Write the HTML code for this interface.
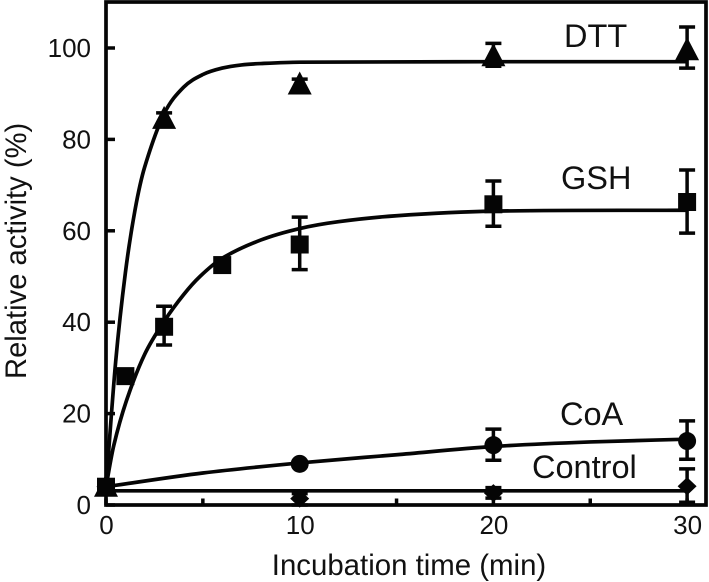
<!DOCTYPE html>
<html>
<head>
<meta charset="utf-8">
<title>Relative activity chart</title>
<style>
html,body{margin:0;padding:0;background:#fff;}
svg{display:block;}
text{font-family:"Liberation Sans",Arial,sans-serif;fill:#111;}
</style>
</head>
<body>
<svg id="chart" xmlns="http://www.w3.org/2000/svg" width="709" height="582" viewBox="0 0 709 582"></svg>
<script>
const xTicks = [0, 10, 20, 30];
const xMinorTicks = [5, 15, 25];
const yTicks = [0, 20, 40, 60, 80, 100];
const xAxisLabel = 'Incubation time (min)';
const yAxisLabel = 'Relative activity (%)';

const dttCurveT = [0, 0.5, 1, 1.5, 2, 3, 4, 5, 6, 7, 8, 10, 20, 30];
const dttCurveV = [4, 31.4, 50.8, 64.6, 74, 85.6, 91.4, 94.2, 95.6, 96.3, 96.6, 96.9, 97, 97];
const gshCurveT = [0, 0.4, 1.07, 2, 3.05, 4, 4.85, 6, 8, 10, 12, 15, 20, 30];
const gshCurveV = [4, 13, 23, 33, 40.5, 46, 50, 54, 58, 60.5, 62, 63.3, 64.3, 64.5];
const coaCurveT = [0, 5, 10, 15, 20, 25, 30];
const coaCurveV = [4, 7, 9.2, 11, 12.8, 13.8, 14.4];
const controlCurveT = [0, 10, 20, 30];
const controlCurveV = [3.1, 3.1, 3.1, 3.1];

const dttT = [0, 3, 10, 20, 30];
const dttV = [4, 84.5, 92, 98.2, 99.5];
const dttLow = [3.5, 83, 90.5, 96, 95.6];
const dttHigh = [4.5, 85.8, 93.2, 101, 104.6];

const gshT = [0, 1, 3, 6, 10, 20, 30];
const gshV = [4, 28.2, 39, 52.5, 57, 65.8, 66.3];
const gshLow = [3.5, 27.5, 35, 52, 51.5, 61, 59.5];
const gshHigh = [4.5, 28.5, 43.5, 53, 63, 70.9, 73.3];

const coaT = [0, 10, 20, 30];
const coaV = [4, 9, 13.1, 14];
const coaLow = [3.5, 8.5, 9.8, 10];
const coaHigh = [4.5, 9.5, 16.6, 18.4];

const controlT = [0, 10, 20, 30];
const controlV = [4, 1.4, 2.6, 4.1];
const controlLow = [3.5, 0, 1.5, 0.6];
const controlHigh = [4.5, 2.5, 3.8, 7.9];

const svg = document.getElementById('chart');
const NS = 'http://www.w3.org/2000/svg';
const sx = t => 106 + t * 19.37;
const sy = v => 505 - v * 4.57;

function make(tag, attrs, parent) {
  const e = document.createElementNS(NS, tag);
  for (const k in attrs) e.setAttribute(k, attrs[k]);
  (parent || svg).appendChild(e);
  return e;
}

function drawCurve(ts, vs, name) {
  const pts = ts.map((t, i) => [sx(t), sy(vs[i])]);
  let d = 'M' + pts[0][0] + ' ' + pts[0][1];
  for (let i = 0; i < pts.length - 1; i++) {
    const p0 = pts[Math.max(i - 1, 0)], p1 = pts[i], p2 = pts[i + 1], p3 = pts[Math.min(i + 2, pts.length - 1)];
    const len = p2[0] - p1[0];
    const m1 = (p2[1] - p0[1]) / Math.max(p2[0] - p0[0], 0.01);
    const m2 = (p3[1] - p1[1]) / Math.max(p3[0] - p1[0], 0.01);
    d += ' C' + (p1[0] + len / 3) + ' ' + (p1[1] + m1 * len / 3) + ' ' + (p2[0] - len / 3) + ' ' + (p2[1] - m2 * len / 3) + ' ' + p2[0] + ' ' + p2[1];
  }
  const path = make('path', {d: d, fill: 'none', stroke: '#050505', 'stroke-width': 3.7});
  
  
}

function drawErrors(ts, lows, highs, name) {
  ts.forEach((t, i) => {
    const x = sx(t), yl = sy(lows[i]), yh = sy(highs[i]);
    const g = make('path', {
      d: 'M' + x + ' ' + yl + 'V' + yh + 'M' + (x - 8) + ' ' + yl + 'H' + (x + 8) + 'M' + (x - 8) + ' ' + yh + 'H' + (x + 8),
      fill: 'none', stroke: '#050505', 'stroke-width': 3.5
    });
    
    
  });
}

function drawMarkers(ts, vs, name, shape) {
  ts.forEach((t, i) => {
    const x = sx(t), y = sy(vs[i]);
    let m;
    if (shape === 'triangle') {
      m = make('polygon', {points: (x - 12) + ',' + (y + 10) + ' ' + x + ',' + (y - 13) + ' ' + (x + 12) + ',' + (y + 10), fill: '#050505'});
    } else if (shape === 'square') {
      m = make('rect', {x: x - 9, y: y - 9, width: 18, height: 18, fill: '#050505'});
    } else if (shape === 'circle') {
      m = make('circle', {cx: x, cy: y, r: 9, fill: '#050505'});
    } else {
      m = make('polygon', {points: (x - 9.5) + ',' + y + ' ' + x + ',' + (y - 9) + ' ' + (x + 9.5) + ',' + y + ' ' + x + ',' + (y + 9), fill: '#050505'});
    }
    
    
  });
}

const frame = make('rect', {x: 106, y: 2, width: 600, height: 503, fill: 'none', stroke: '#050505', 'stroke-width': 3.7});



yTicks.forEach(v => {
  const tick = make('line', {x1: 106, x2: 115, y1: sy(v), y2: sy(v), stroke: '#050505', 'stroke-width': 3.5});
  
  
  const label = make('text', {x: 91, y: sy(v) + 9, 'text-anchor': 'end', 'font-size': 26});
  
  
  label.textContent = v;
});

xTicks.concat(xMinorTicks).forEach(t => {
  const tick = make('line', {x1: sx(t), x2: sx(t), y1: 505, y2: 498.5, stroke: '#050505', 'stroke-width': 3.5});
  
  
});

xTicks.forEach(t => {
  const label = make('text', {x: sx(t) + 0.5, y: 534, 'text-anchor': 'middle', 'font-size': 26});
  
  
  label.textContent = t;
});

const xTitle = make('text', {x: 409, y: 575, 'text-anchor': 'middle', 'font-size': 29.4});


xTitle.textContent = xAxisLabel;

const yTitle = make('text', {x: 0, y: 0, 'text-anchor': 'start', 'font-size': 29.2, transform: 'translate(26 379) rotate(-90)'});


yTitle.textContent = yAxisLabel;

drawCurve(dttCurveT, dttCurveV, 'dtt');
drawCurve(gshCurveT, gshCurveV, 'gsh');
drawCurve(coaCurveT, coaCurveV, 'coa');
drawCurve(controlCurveT, controlCurveV, 'control');

drawErrors(controlT, controlLow, controlHigh, 'control');
drawErrors(coaT, coaLow, coaHigh, 'coa');
drawErrors(gshT, gshLow, gshHigh, 'gsh');
drawErrors(dttT, dttLow, dttHigh, 'dtt');

drawMarkers(controlT, controlV, 'control', 'diamond');
drawMarkers(coaT, coaV, 'coa', 'circle');
drawMarkers(dttT, dttV, 'dtt', 'triangle');
drawMarkers(gshT, gshV, 'gsh', 'square');

const seriesNames = ['DTT', 'GSH', 'CoA', 'Control'];
const seriesLabelX = [564, 561, 560, 532];
const seriesLabelY = [47, 189, 425, 478];
seriesNames.forEach((s, i) => {
  const label = make('text', {x: seriesLabelX[i], y: seriesLabelY[i], 'font-size': 32.5});
  
  
  label.textContent = s;
});
</script>
</body>
</html>
